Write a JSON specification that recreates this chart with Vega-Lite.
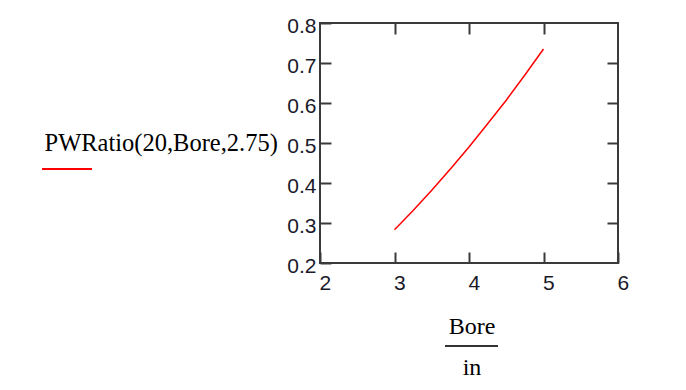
{
  "$schema": "https://vega.github.io/schema/vega-lite/v6.json",
  "width": 298,
  "height": 240,
  "autosize": {"type": "none"},
  "padding": {"left": 320, "top": 23, "right": 68, "bottom": 127},
  "background": "white",
  "config": {
    "view": {"stroke": "#3a3a3a", "strokeWidth": 2},
    "axis": {"domain": false, "grid": false}
  },
  "data": {
    "values": [
      {"Bore": 3.0, "PWRatio": 0.283, "s": "PWRatio(20,Bore,2.75)"},
      {"Bore": 3.25, "PWRatio": 0.331, "s": "PWRatio(20,Bore,2.75)"},
      {"Bore": 3.5, "PWRatio": 0.382, "s": "PWRatio(20,Bore,2.75)"},
      {"Bore": 3.75, "PWRatio": 0.435, "s": "PWRatio(20,Bore,2.75)"},
      {"Bore": 4.0, "PWRatio": 0.49, "s": "PWRatio(20,Bore,2.75)"},
      {"Bore": 4.25, "PWRatio": 0.548, "s": "PWRatio(20,Bore,2.75)"},
      {"Bore": 4.5, "PWRatio": 0.607, "s": "PWRatio(20,Bore,2.75)"},
      {"Bore": 4.75, "PWRatio": 0.67, "s": "PWRatio(20,Bore,2.75)"},
      {"Bore": 5.0, "PWRatio": 0.735, "s": "PWRatio(20,Bore,2.75)"}
    ]
  },
  "layer": [
    {
      "mark": {"type": "line", "strokeWidth": 1.5},
      "encoding": {
        "x": {
          "field": "Bore", "type": "quantitative",
          "scale": {"domain": [2, 6], "nice": false, "zero": false},
          "axis": {
            "orient": "bottom", "values": [2, 3, 4, 5, 6],
            "tickSize": -11, "tickColor": "#3a3a3a", "tickWidth": 2,
            "labelFont": "Liberation Sans", "labelFontSize": 21, "labelColor": "#1a1a2a",
            "labelAlign": "left", "labelBaseline": "top", "labelOffset": -1, "labelPadding": 20,
            "labelFlush": false, "labelOverlap": false,
            "title": ["Bore", "in"],
            "titleFont": "Liberation Serif", "titleFontSize": 24, "titleFontWeight": "normal",
            "titleColor": "black", "titleLineHeight": 41,
            "titleX": 151.5, "titleY": 70, "titleAlign": "center", "titleBaseline": "alphabetic"
          }
        },
        "y": {
          "field": "PWRatio", "type": "quantitative",
          "scale": {"domain": [0.2, 0.8], "nice": false, "zero": false},
          "axis": {
            "orient": "left", "values": [0.2, 0.3, 0.4, 0.5, 0.6, 0.7, 0.8],
            "format": ".1f",
            "tickSize": -11, "tickColor": "#3a3a3a", "tickWidth": 2,
            "labelFont": "Liberation Sans", "labelFontSize": 21, "labelColor": "#1a1a2a",
            "labelAlign": "right", "labelBaseline": "middle", "labelOffset": 3, "labelPadding": 15,
            "labelFlush": false, "labelOverlap": false,
            "title": "PWRatio(20,Bore,2.75)",
            "titleFont": "Liberation Serif", "titleFontSize": 24.5, "titleFontWeight": "normal",
            "titleColor": "black", "titleAngle": 0, "titleAlign": "left", "titleBaseline": "alphabetic",
            "titleX": -276, "titleY": 127
          }
        },
        "color": {
          "field": "s", "type": "nominal",
          "scale": {"range": ["#ff0000"]},
          "legend": {
            "orient": "none", "legendX": -279, "legendY": 120,
            "symbolType": "stroke", "symbolSize": 2500, "symbolStrokeWidth": 2,
            "labelExpr": "''", "title": null, "padding": 0
          }
        }
      }
    },
    {
      "mark": {"type": "point", "opacity": 0, "color": "#333333"},
      "encoding": {
        "x": {
          "field": "Bore", "type": "quantitative",
          "axis": {"orient": "top", "values": [3, 4, 5], "tickSize": -11, "tickColor": "#3a3a3a", "tickWidth": 2, "labels": false, "title": null}
        },
        "y": {
          "field": "PWRatio", "type": "quantitative",
          "axis": {"orient": "right", "values": [0.3, 0.4, 0.5, 0.6, 0.7], "tickSize": -11, "tickColor": "#3a3a3a", "tickWidth": 2, "labels": false, "title": null}
        },
        "shape": {
          "datum": "Bore / in",
          "scale": {"range": ["stroke"]},
          "legend": {
            "orient": "none", "legendX": 124, "legendY": 295.5,
            "symbolSize": 2809, "symbolStrokeWidth": 2, "symbolStrokeColor": "#333333",
            "symbolOpacity": 1, "labelExpr": "''", "title": null, "padding": 0
          }
        }
      }
    }
  ]
}
